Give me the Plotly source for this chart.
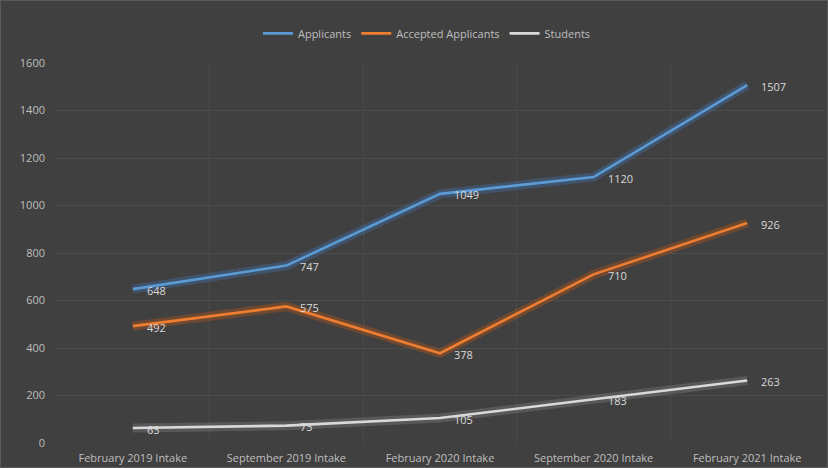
import plotly.graph_objects as go

# Intake periods and counts per series
intakes = [
    "February 2019 Intake",
    "September 2019 Intake",
    "February 2020 Intake",
    "September 2020 Intake",
    "February 2021 Intake",
]
applicants = [648, 747, 1049, 1120, 1507]
accepted = [492, 575, 378, 710, 926]
students = [63, 73, 105, 183, 263]

series = [
    ("Applicants", applicants, "#5B9BD5", "rgba(70,120,190,0.35)"),
    ("Accepted Applicants", accepted, "#ED7D31", "rgba(200,90,20,0.35)"),
    ("Students", students, "#D9D9D9", "rgba(200,200,200,0.18)"),
]

x = list(range(len(intakes)))

fig = go.Figure()

# soft glow beneath each line
for name, vals, color, glow in series:
    fig.add_trace(go.Scatter(
        x=x, y=vals, mode="lines",
        line=dict(color=glow, width=9),
        hoverinfo="skip", showlegend=False,
    ))

for name, vals, color, glow in series:
    fig.add_trace(go.Scatter(
        x=x, y=vals, mode="lines", name=name,
        line=dict(color=color, width=2.6),
    ))
    # value labels to the right of each point
    for xi, v in zip(x, vals):
        fig.add_annotation(
            x=xi, y=v, text=str(v), showarrow=False,
            xanchor="left", yanchor="middle", xshift=12, yshift=-1,
            font=dict(color="#D9D9D9", size=11, family="Open Sans"),
        )

fig.update_layout(
    width=828, height=468,
    paper_bgcolor="#404040",
    plot_bgcolor="#404040",
    margin=dict(l=56, r=4, t=63, b=25),
    font=dict(family="Open Sans", color="#BFBFBF", size=11),
    legend=dict(
        orientation="h", x=0.483, xanchor="center", y=1.078, yanchor="middle",
        font=dict(size=11, color="#BFBFBF"), bgcolor="rgba(0,0,0,0)",
        itemwidth=30,
    ),
    showlegend=True,
)

fig.update_xaxes(
    range=[-0.5, len(intakes) - 0.5],
    tickvals=x, ticktext=intakes,
    showgrid=False, zeroline=False, showline=False,
    ticks="", tickfont=dict(size=11, color="#BFBFBF"),
    ticklabelstandoff=7,
    minor=dict(tickvals=[i + 0.5 for i in x[:-1]], showgrid=True,
               gridcolor="#4A4A4A", gridwidth=1),
)
fig.update_yaxes(
    range=[0, 1600], dtick=200,
    showgrid=True, gridcolor="#4C4C4C", gridwidth=1,
    zeroline=False, showline=False, ticks="",
    tickfont=dict(size=11, color="#BFBFBF"),
    ticklabelstandoff=10,
)

# chart frame
fig.add_shape(type="rect", xref="paper", yref="paper",
              x0=-56 / 768, x1=1 + 4 / 768, y0=-25 / 380, y1=1 + 63 / 380,
              line=dict(color="#5A5A5A", width=2), layer="below")

fig.write_html("out.html")
